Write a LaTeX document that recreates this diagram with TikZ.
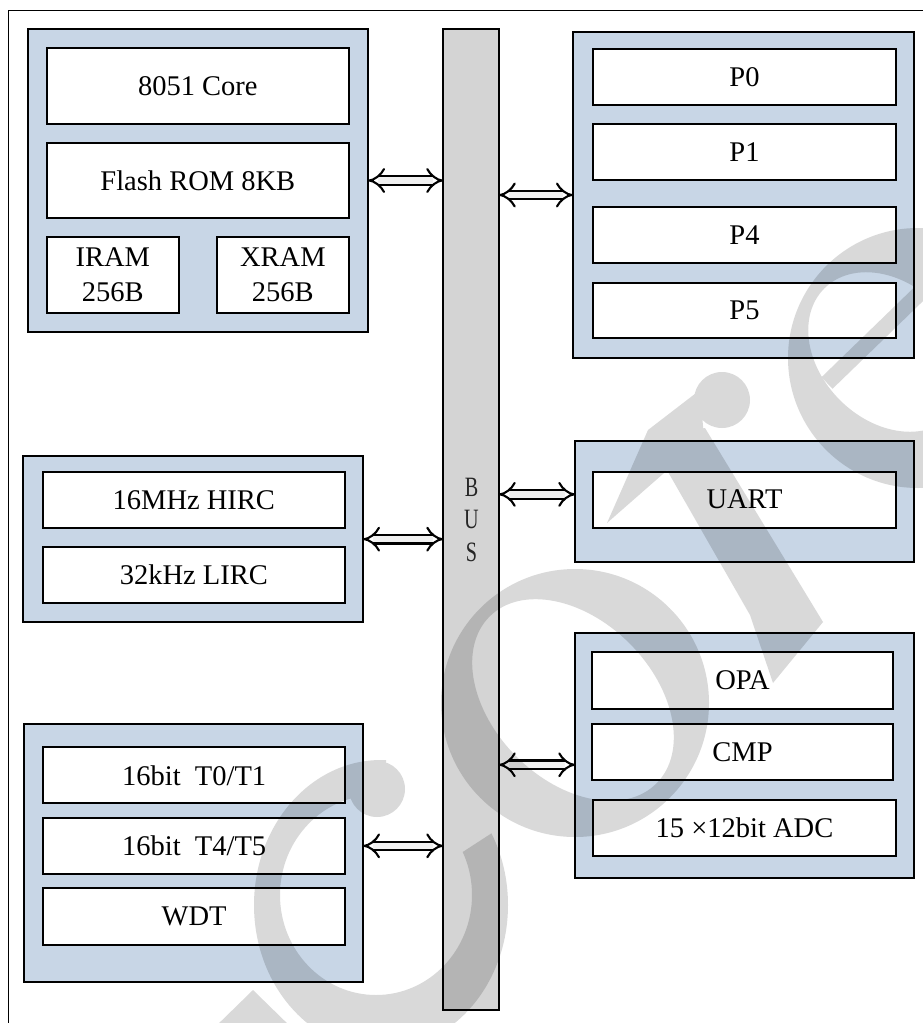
\documentclass[tikz,border=0pt]{standalone}
\usepackage{fontspec}
\setmainfont{Liberation Serif}
\newfontfamily\busfont[FakeStretch=0.72]{Liberation Serif}
\usetikzlibrary{arrows.meta,calc}
\definecolor{grpblue}{RGB}{200,214,230}
\definecolor{busgray}{RGB}{212,212,212}
\definecolor{arrowfill}{RGB}{240,240,240}

\begin{document}
\begin{tikzpicture}[x=1pt, y=-1pt,
  every node/.style={inner sep=0pt, outer sep=0pt},
  grp/.style={draw=black, line width=2.2pt, fill=grpblue},
  unit/.style={draw=black, line width=2pt, fill=white, align=center,
               font=\fontsize{28.5}{35}\selectfont},
  link/.style={double=arrowfill, double distance=6.5pt, line width=2.1pt,
               {Implies}-{Implies}}]

\useasboundingbox (0,0) rectangle (923,1023);
\clip (0,0) rectangle (923,1023);

% outer frame
\draw[line width=1.6pt] (8.5,10.5) rectangle (960,1060);

% ---- CPU and memory ----
\node[grp, minimum width=340.6pt, minimum height=303pt] (mem) at (198,180.8) {};
\node[unit, minimum width=302.3pt, minimum height=75.7pt] (core) at (197.85,86.15) {8051 Core};
\node[unit, minimum width=302.3pt, minimum height=75.6pt] (flash) at (197.85,180.5) {Flash ROM 8KB};
\node[unit, minimum width=132.3pt, minimum height=75.7pt] (iram) at (112.85,274.85) {IRAM\\256B};
\node[unit, minimum width=132.3pt, minimum height=75.7pt] (xram) at (282.85,274.85) {XRAM\\256B};

% ---- clocks ----
\node[grp, minimum width=340pt, minimum height=166.3pt] (clock) at (193.3,539.15) {};
\node[unit, minimum width=302.3pt, minimum height=56pt] (hirc) at (193.85,499.7) {16MHz HIRC};
\node[unit, minimum width=302.3pt, minimum height=56.6pt] (lirc) at (193.85,575) {32kHz LIRC};

% ---- timers ----
\node[grp, minimum width=339.3pt, minimum height=257.7pt] (timer) at (193.65,852.85) {};
\node[unit, minimum width=301.7pt, minimum height=56pt] (t01) at (194.15,775.3) {16bit~~T0/T1};
\node[unit, minimum width=301.7pt, minimum height=56.3pt] (t45) at (194.15,845.85) {16bit~~T4/T5};
\node[unit, minimum width=301.7pt, minimum height=56.7pt] (wdt) at (194.15,916.65) {WDT};

% ---- ports ----
\node[grp, minimum width=341.6pt, minimum height=325.4pt] (ports) at (743.5,195) {};
\node[unit, minimum width=302.4pt, minimum height=56pt] (p0) at (744.5,77) {P0};
\node[unit, minimum width=302.4pt, minimum height=56pt] (p1) at (744.5,152) {P1};
\node[unit, minimum width=302.4pt, minimum height=56.6pt] (p4) at (744.5,235) {P4};
\node[unit, minimum width=302.4pt, minimum height=55.6pt] (p5) at (744.5,310.5) {P5};

% ---- serial ----
\node[grp, minimum width=339.3pt, minimum height=120.7pt] (uartg) at (744.65,501.35) {};
\node[unit, minimum width=302.4pt, minimum height=56pt] (uart) at (744.5,499.7) {UART};

% ---- analog ----
\node[grp, minimum width=339pt, minimum height=245pt] (anag) at (744.5,755.8) {};
\node[unit, minimum width=301.6pt, minimum height=56.7pt] (opa) at (742.5,680.65) {OPA};
\node[unit, minimum width=301.6pt, minimum height=56pt] (cmp) at (742.5,752) {CMP};
\node[unit, minimum width=302.4pt, minimum height=56pt] (adc) at (744.5,828) {15 ×12bit ADC};

% ---- system bus ----
\node[draw=black, line width=1.8pt, fill=busgray, minimum width=56pt, minimum height=980.7pt] (bus) at (471,519.65) {};
\node[align=center, text=black!85, font=\busfont\fontsize{28}{32.5}\selectfont] (buslabel) at (471.5,519.5) {B\\U\\S};

% ---- bus links ----
\coordinate (uartport) at ([yshift=7pt]uartg.west);
\coordinate (anaport) at ([yshift=-9pt]anag.west);
\draw[link] (mem.east |- flash.east) -- (bus.west |- flash.east);
\draw[link] (bus.east |- ports.west) -- (ports.west);
\draw[link] (clock.east) -- (bus.west |- clock.east);
\draw[link] (bus.east |- uartport) -- (uartport);
\draw[link] (timer.east |- t45.east) -- (bus.west |- t45.east);
\draw[link] (bus.east |- anaport) -- (anaport);

% ---- watermark ----
\begin{scope}[transparency group, opacity=0.15]
  \begin{scope}
    \clip (381,905) -- (717,687) -- (717,1100) -- (100,1100) -- (100,505) -- (395,505) -- cycle;
    \fill[even odd rule] (381,905) ellipse[x radius=127, y radius=145]
                         (376,895) ellipse[x radius=96, y radius=100];
  \end{scope}
  \fill (377,789) circle[radius=28];
  \fill (253,990) -- (294,1030) -- (212,1030) -- cycle;
  \fill[even odd rule] (575,703) circle[radius=134]
                       (573,700) ellipse[x radius=118, y radius=80, rotate=-45];
  \fill (722,400) circle[radius=28];
  \fill (607,523) -- (648,430) -- (700,390) -- (704,438) -- cycle;
  \fill (648,437) -- (705,428) -- (823,622) -- (773,683) -- (750,615) -- cycle;
  \fill[even odd rule] (918,358) circle[radius=130]
                       (888,352) ellipse[x radius=90, y radius=68, rotate=-45];
  \draw[line width=16pt] (827,383) -- (925,288);
\end{scope}

\end{tikzpicture}
\end{document}
